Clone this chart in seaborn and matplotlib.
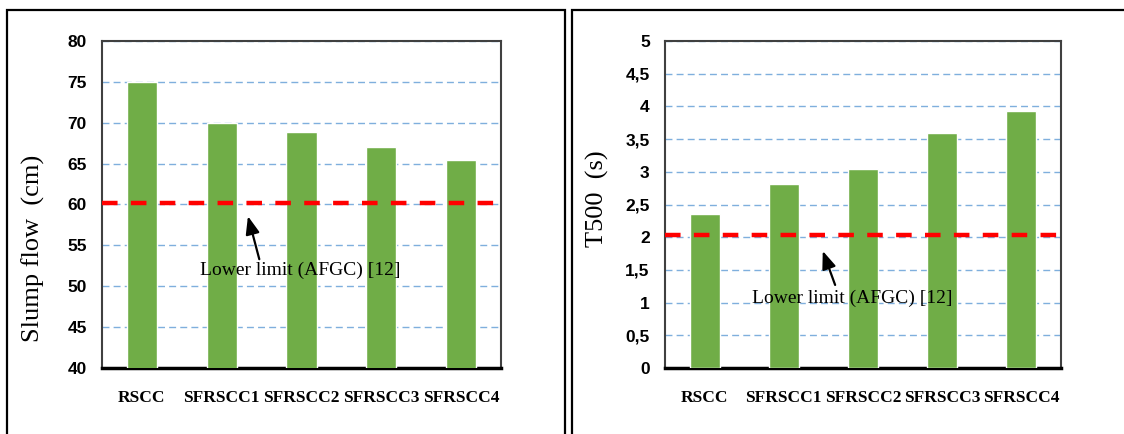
import matplotlib
matplotlib.use("Agg")
import matplotlib.pyplot as plt
from matplotlib.patches import Rectangle
import seaborn as sns
import pandas as pd
import numpy as np

categories = ["RSCC", "SFRSCC1", "SFRSCC2", "SFRSCC3", "SFRSCC4"]
slump_flow = [75.0, 70.0, 68.9, 67.0, 65.4]
t500 = [2.35, 2.82, 3.04, 3.60, 3.93]
slump_limit = 60.2
t500_limit = 2.04
slump_ticks = ["40", "45", "50", "55", "60", "65", "70", "75", "80"]
t500_ticks = ["0", "0,5", "1", "1,5", "2", "2,5", "3", "3,5", "4", "4,5", "5"]
annot_text = "Lower limit (AFGC) [12]"

sns.set_theme(style="white")
plt.rcParams["font.family"] = ["DejaVu Sans"]

W, H = 1124, 434
fig = plt.figure(figsize=(W / 100, H / 100), dpi=100)

# outer frames
for (x0, x1) in [(7, 565), (572, 1130)]:
    fig.patches.append(Rectangle((x0 / W, -0.05), (x1 - x0) / W, (H - 10) / H + 0.05,
                                 transform=fig.transFigure, fill=False,
                                 edgecolor="black", linewidth=1.6))

bar_color = "#70AD47"

def make_panel(rect, values, ylim, tick_labels, ylabel, label_xy, limit, text_xy, arrow_tail, arrow_head):
    ax = fig.add_axes([rect[0] / W, 1 - rect[3] / H, (rect[2] - rect[0]) / W, (rect[3] - rect[1]) / H])
    df = pd.DataFrame({"cat": categories, "val": values})
    sns.barplot(data=df, x="cat", y="val", color=bar_color, saturation=1,
                width=0.38, ax=ax, zorder=3)
    ax.set_ylim(*ylim)
    ticks = np.linspace(ylim[0], ylim[1], len(tick_labels))
    ax.set_yticks(ticks, labels=tick_labels, fontfamily="Liberation Sans",
                  fontweight="bold", fontsize=12.5, color="black")
    ax.set_xticks(range(len(categories)), labels=categories, fontfamily="Liberation Serif",
                  fontweight="bold", fontsize=12.5, color="black")
    ax.grid(False)
    ax.yaxis.grid(True, linestyle=(0, (5, 3)), color="#7FAFDD", linewidth=1.0, zorder=0)
    ax.set_axisbelow(True)
    ax.axhline(limit, color="#FF0000", linewidth=3.2, linestyle=(0, (3.5, 3)), zorder=4)
    for s in ["top", "right", "left"]:
        ax.spines[s].set_color("#404040")
        ax.spines[s].set_linewidth(1.5)
    ax.spines["bottom"].set_color("black")
    ax.spines["bottom"].set_linewidth(2.5)
    ax.tick_params(axis="both", length=0)
    ax.tick_params(axis="y", pad=11)
    ax.tick_params(axis="x", pad=16)
    ax.set_xlabel("")
    ax.set_ylabel(ylabel, fontfamily="Liberation Serif", fontsize=19, color="black", va="center")
    ax.yaxis.set_label_coords(*label_xy)
    # annotation
    ax.annotate("", xy=arrow_head, xycoords=ax.transData,
                xytext=arrow_tail, textcoords=ax.transData,
                arrowprops=dict(arrowstyle="-|>,head_length=0.9,head_width=0.35",
                                color="black", lw=1.6), zorder=6)
    ax.text(text_xy[0], text_xy[1], annot_text, fontfamily="Liberation Serif",
            fontsize=14, ha="center", va="center", color="black", zorder=6)
    return ax

make_panel((102, 41, 501, 368), slump_flow, (40, 80), slump_ticks, "Slump flow  (cm)",
           ((33 - 102) / 399, 0.367), slump_limit,
           (1.98, 52.0), (1.48, 52.98), (1.32, 58.9))
make_panel((665, 41, 1061, 368), t500, (0, 5), t500_ticks, "T500  (s)",
           ((597 - 665) / 396, 0.518), t500_limit,
           (1.87, 1.07), (1.66, 1.23), (1.48, 1.83))

fig.savefig("out.png", dpi=100)
